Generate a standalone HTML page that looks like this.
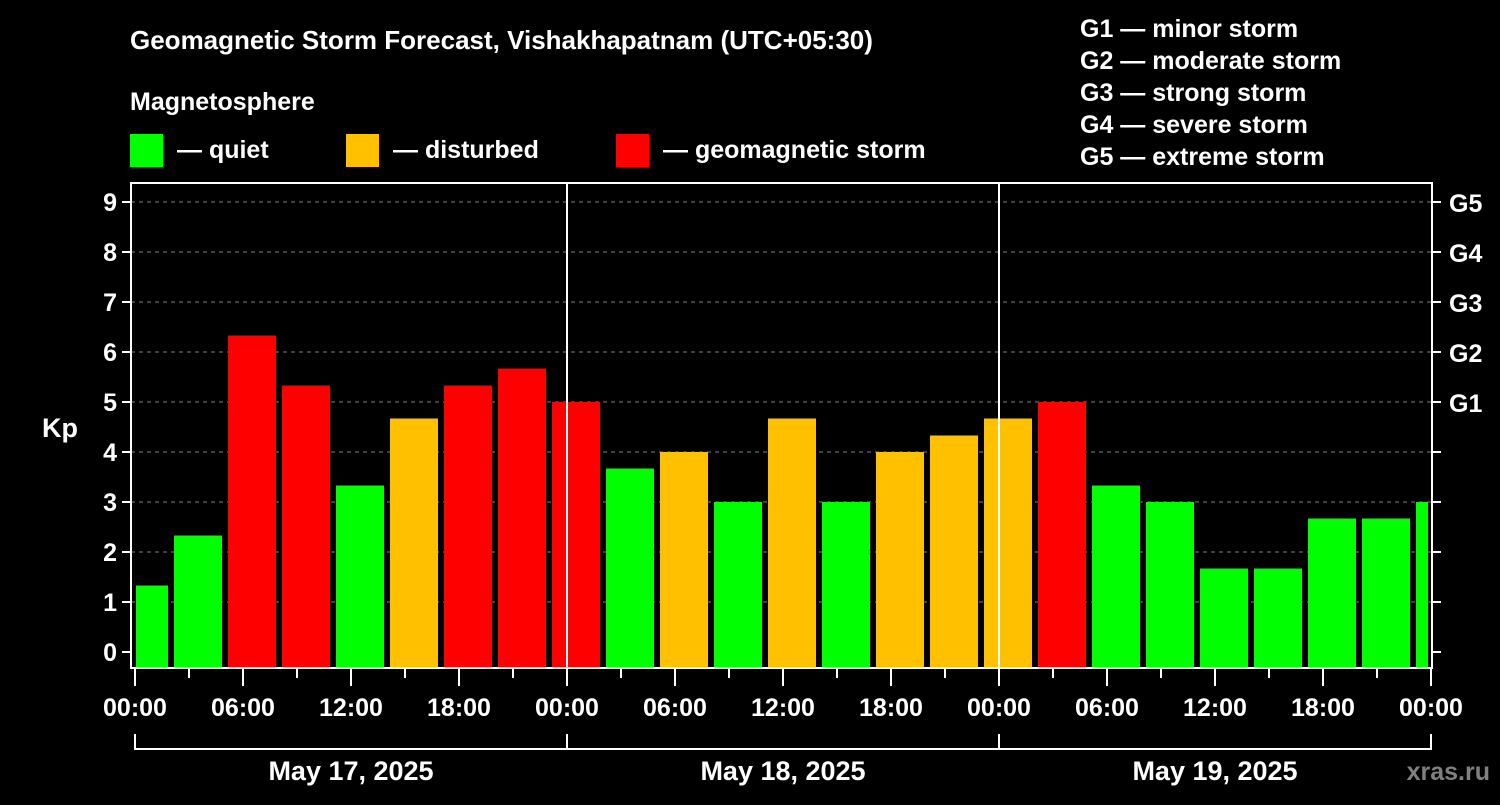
<!DOCTYPE html>
<html><head><meta charset="utf-8"><style>
body{margin:0;background:#000;width:1500px;height:800px;overflow:hidden}
svg text{font-family:"Liberation Sans",Arial,sans-serif;font-weight:bold;fill:#fff}
</style></head><body>
<svg id="chart" width="1500" height="800" xmlns="http://www.w3.org/2000/svg">
<rect width="1500" height="800" fill="#000"/>
<text x="130" y="49" font-size="26">Geomagnetic Storm Forecast, Vishakhapatnam (UTC+05:30)</text>
<text x="130" y="110" font-size="25">Magnetosphere</text>
<g><rect x="130" y="134" width="33" height="33" fill="#00ff00"/><text x="177" y="158" font-size="25">— quiet</text></g>
<g><rect x="346" y="134" width="33" height="33" fill="#ffc000"/><text x="393" y="158" font-size="25">— disturbed</text></g>
<g><rect x="616" y="134" width="33" height="33" fill="#ff0000"/><text x="663" y="158" font-size="25">— geomagnetic storm</text></g>
<g font-size="25">
<text x="1080" y="37">G1 — minor storm</text>
<text x="1080" y="69">G2 — moderate storm</text>
<text x="1080" y="101">G3 — strong storm</text>
<text x="1080" y="133">G4 — severe storm</text>
<text x="1080" y="165">G5 — extreme storm</text>
</g>
<text x="42" y="437" font-size="27">Kp</text>
<g id="grid"></g><g id="bars"></g><g id="axes"></g>
<text x="1490" y="780" font-size="25" text-anchor="end" fill="#808080" style="fill:#808080">xras.ru</text>
</svg>
<script>
const kpValues=[1.33,2.33,6.33,5.33,3.33,4.67,5.33,5.67,5.0,3.67,4.0,3.0,4.67,3.0,4.0,4.33,4.67,5.0,3.33,3.0,1.67,1.67,2.67,2.67,3.0];
const barHours=[0.5,3.5,6.5,9.5,12.5,15.5,18.5,21.5,24.5,27.5,30.5,33.5,36.5,39.5,42.5,45.5,48.5,51.5,54.5,57.5,60.5,63.5,66.5,69.5,72.5];
const yTicks=[0,1,2,3,4,5,6,7,8,9];
const gLabels=["","","","","","G1","G2","G3","G4","G5"];
const xTickLabels=["00:00","06:00","12:00","18:00","00:00","06:00","12:00","18:00","00:00","06:00","12:00","18:00","00:00"];
const dateLabels=["May 17, 2025","May 18, 2025","May 19, 2025"];
const NS="http://www.w3.org/2000/svg";
const L=131,R=1432,T=183,B=668,X0=135,XPH=18;
const x=h=>X0+h*XPH, y=v=>652-v*50;
function mk(p,tag,a){const e=document.createElementNS(NS,tag);for(const k in a)e.setAttribute(k,a[k]);p.appendChild(e);return e;}
const grid=document.getElementById('grid'),bars=document.getElementById('bars'),axes=document.getElementById('axes');
yTicks.forEach((v,i)=>{
 if(v>0){const g=mk(grid,'line',{x1:L,x2:R,y1:y(v),y2:y(v),stroke:'#808080','stroke-width':1,'stroke-dasharray':'4,4'});
 
 }
 mk(axes,'line',{x1:L-9,x2:L,y1:y(v),y2:y(v),stroke:'#fff','stroke-width':2});
 mk(axes,'line',{x1:R,x2:R+9,y1:y(v),y2:y(v),stroke:'#fff','stroke-width':2});
 const t=mk(axes,'text',{x:L-14,y:y(v)+9,'font-size':25,'text-anchor':'end'});t.textContent=v;
 
 
 if(gLabels[i]){const g2=mk(axes,'text',{x:R+17,y:y(v)+10,'font-size':25});g2.textContent=gLabels[i];
 
 }
});
mk(bars,'clipPath',{id:'pc'});
mk(bars.lastChild,'rect',{x:136,y:T,width:1428-136,height:B-T});
kpValues.forEach((v,i)=>{
 const c=v>=5?'#ff0000':(v>=4?'#ffc000':'#00ff00');
 const cx=x(barHours[i]);
 const r=mk(bars,'rect',{x:cx-24,y:y(v),width:48,height:B-y(v),fill:c,'clip-path':'url(#pc)'});
 
 
});
[24,48].forEach(h=>mk(axes,'line',{x1:x(h),x2:x(h),y1:T,y2:B,stroke:'#fff','stroke-width':2}));
const fr=mk(axes,'rect',{x:L,y:T,width:R-L,height:B-T,fill:'none',stroke:'#fff','stroke-width':2});


for(let h=0;h<=72;h+=3){mk(axes,'line',{x1:x(h),x2:x(h),y1:B,y2:h%6==0?686:678,stroke:'#fff','stroke-width':2});}
xTickLabels.forEach((s,i)=>{const t=mk(axes,'text',{x:x(i*6),y:716,'font-size':25,'text-anchor':'middle'});t.textContent=s;
 
 });
mk(axes,'line',{x1:x(0),x2:x(72),y1:749,y2:749,stroke:'#fff','stroke-width':2});
[0,24,48,72].forEach(h=>mk(axes,'line',{x1:x(h),x2:x(h),y1:734,y2:750,stroke:'#fff','stroke-width':2}));
dateLabels.forEach((s,i)=>{const t=mk(axes,'text',{x:x(i*24+12),y:780,'font-size':27,'text-anchor':'middle'});t.textContent=s;
 
 });
</script>
</body></html>
